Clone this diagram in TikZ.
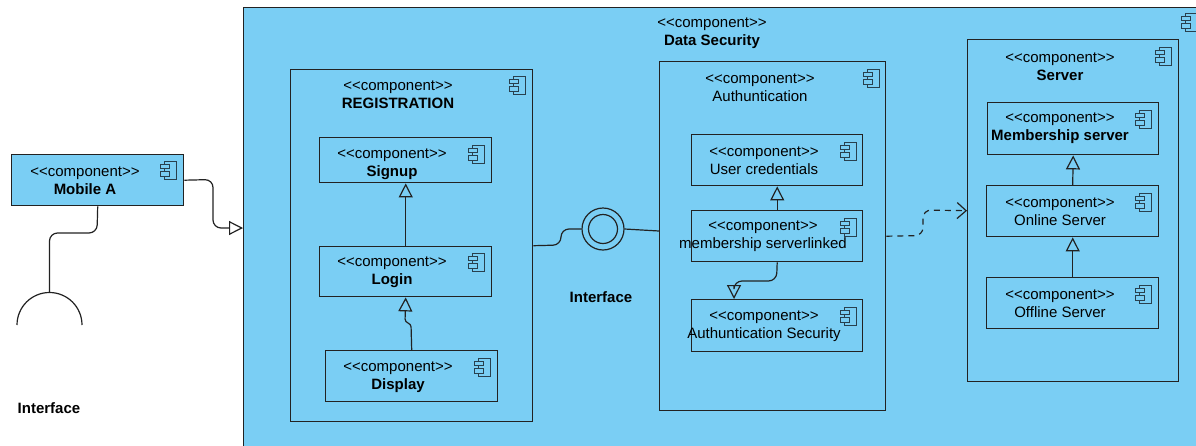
\documentclass[tikz,border=0pt]{standalone}
\usepackage{fontspec}
\setmainfont{Liberation Sans}
\usetikzlibrary{arrows.meta}
\definecolor{fillC}{RGB}{122,206,244}
\definecolor{lineC}{RGB}{34,34,34}
\definecolor{iconC}{RGB}{40,64,78}
\newcommand\stereo{<\kern0pt<component>\kern0pt>}
\tikzset{
  box/.style={draw=lineC, line width=1.4pt, fill=fillC, inner sep=0pt, anchor=north west},
  lbl/.style={font=\fontsize{15}{18}\selectfont, align=center, inner sep=0pt, text=black, yshift=-1.5pt},
  conn/.style={draw=lineC, line width=1.2pt, rounded corners=8pt},
  gen/.style={conn, -{Triangle[open, length=14pt, width=14pt, line width=1.2pt]}},
  compicon/.pic={
    \draw[iconC, line width=1pt, fill=fillC] (-4,-9) rectangle (8,9);
    \draw[iconC, line width=1pt, fill=fillC] (-8,-6) rectangle (1,-1.5);
    \draw[iconC, line width=1pt, fill=fillC] (-8,1.5) rectangle (1,6);
  }
}
\begin{document}
\begin{tikzpicture}[x=1pt,y=-1pt]
\useasboundingbox (0,0) rectangle (1196,445);
\clip (0,0) rectangle (1196,445);
\fill[white] (0,0) rectangle (1196,445);

% outer frame
\node[box, minimum width=1000, minimum height=500] (ds) at (243,7) {};
\node[lbl] (dst) at (712,31.5) {\stereo\\\textbf{Data Security}};
\pic at (1189,22) {compicon};
\coordinate (dsin) at (243,228);

% Mobile A
\node[box, minimum width=172, minimum height=51] (mob) at (11,154) {};
\node[lbl] (mobt) at (85,179) {\stereo\\\textbf{Mobile A}};
\pic at (168,170) {compicon};

% socket on the left
\coordinate (sock) at (49.5,292.5);
\draw[lineC, line width=1.2pt] (17,325) arc[start angle=180, end angle=360, radius=32.5];
\node[lbl] (ifl) at (49,407) {\textbf{Interface}};
\draw[conn] (mob.south) -- (97,233) -- (49.5,233) -- (sock);
\draw[gen] (mob.east) -- (213,179.5) -- (213,228) -- (dsin);

% REGISTRATION
\node[box, minimum width=242, minimum height=352] (reg) at (290,69) {};
\node[lbl] (regt) at (398,93.5) {\stereo\\\textbf{REGISTRATION}};
\pic at (517,85) {compicon};

\node[box, minimum width=172, minimum height=45] (signup) at (319,137) {};
\node[lbl] (signupt) at (392,162.5) {\stereo\\\textbf{Signup}};
\pic at (476,154) {compicon};

\node[box, minimum width=172, minimum height=50] (login) at (319,246) {};
\node[lbl] (logint) at (392,271) {\stereo\\\textbf{Login}};
\pic at (476,262) {compicon};

\node[box, minimum width=172, minimum height=51] (display) at (325,350) {};
\node[lbl] (displayt) at (398,376) {\stereo\\\textbf{Display}};
\pic at (482,367) {compicon};

\draw[gen] (login.north) -- (signup.south);
\draw[gen, rounded corners=3pt] (display.north) -- (411,324) -- (405,322) -- (login.south);

% Interface lollipop
\node[circle, draw=lineC, line width=1.2pt, fill=fillC, minimum size=42, inner sep=0pt] (ifc) at (603,229) {};
\node[circle, draw=lineC, line width=1.2pt, minimum size=29, inner sep=0pt] (ifci) at (603,229) {};
\node[lbl] (ifct) at (601,296) {\textbf{Interface}};

% Authuntication
\node[box, minimum width=226, minimum height=349] (auth) at (659,61) {};
\node[lbl] (autht) at (760,86.5) {\stereo\\Authuntication};
\pic at (871,78) {compicon};
\coordinate (authin) at (659,231);

\node[box, minimum width=171, minimum height=51] (user) at (691,134) {};
\node[lbl] (usert) at (764,159.5) {\stereo\\User credentials};
\pic at (848,151) {compicon};

\node[box, minimum width=171, minimum height=51] (memb) at (691,210) {};
\node[lbl] (membt) at (763,235) {\stereo\\membership serverlinked};
\pic at (848,227) {compicon};

\node[box, minimum width=171, minimum height=52] (asec) at (691,299) {};
\node[lbl] (asect) at (764,325) {\stereo\\Authuntication Security};
\pic at (848,316) {compicon};
\coordinate (asin) at (734,299);

\draw[gen] (memb.north) -- (user.south);
\draw[gen] (memb.south) -- (776.5,281) -- (734,281) -- (asin);

\draw[conn] (reg.east) -- (561,245) -- (561,229) -- (ifc.west);
\draw[conn] (ifc.east) -- (authin);

% Server
\node[box, minimum width=211, minimum height=342] (server) at (967,39) {};
\node[lbl] (servert) at (1060,65) {\stereo\\\textbf{Server}};
\pic at (1163,56) {compicon};

\node[box, minimum width=171, minimum height=52] (msrv) at (987,102) {};
\node[lbl] (msrvt) at (1060,127) {\stereo\\\textbf{Membership server}};
\pic at (1143,119) {compicon};

\node[box, minimum width=172, minimum height=51] (online) at (986,185) {};
\node[lbl] (onlinet) at (1060,210.5) {\stereo\\Online Server};
\pic at (1143,202) {compicon};

\node[box, minimum width=172, minimum height=51] (offline) at (986,277) {};
\node[lbl] (offlinet) at (1060,302.5) {\stereo\\Offline Server};
\pic at (1143,294) {compicon};

\draw[gen] (online.north) -- (msrv.south);
\draw[gen] (offline.north) -- (online.south);

% dependency
\draw[conn, dash pattern=on 6pt off 5pt, -{Straight Barb[length=9pt, width=16pt, line width=1.2pt]}]
  (auth.east) -- (923,235.5) -- (923,210) -- (server.west);
\end{tikzpicture}
\end{document}
